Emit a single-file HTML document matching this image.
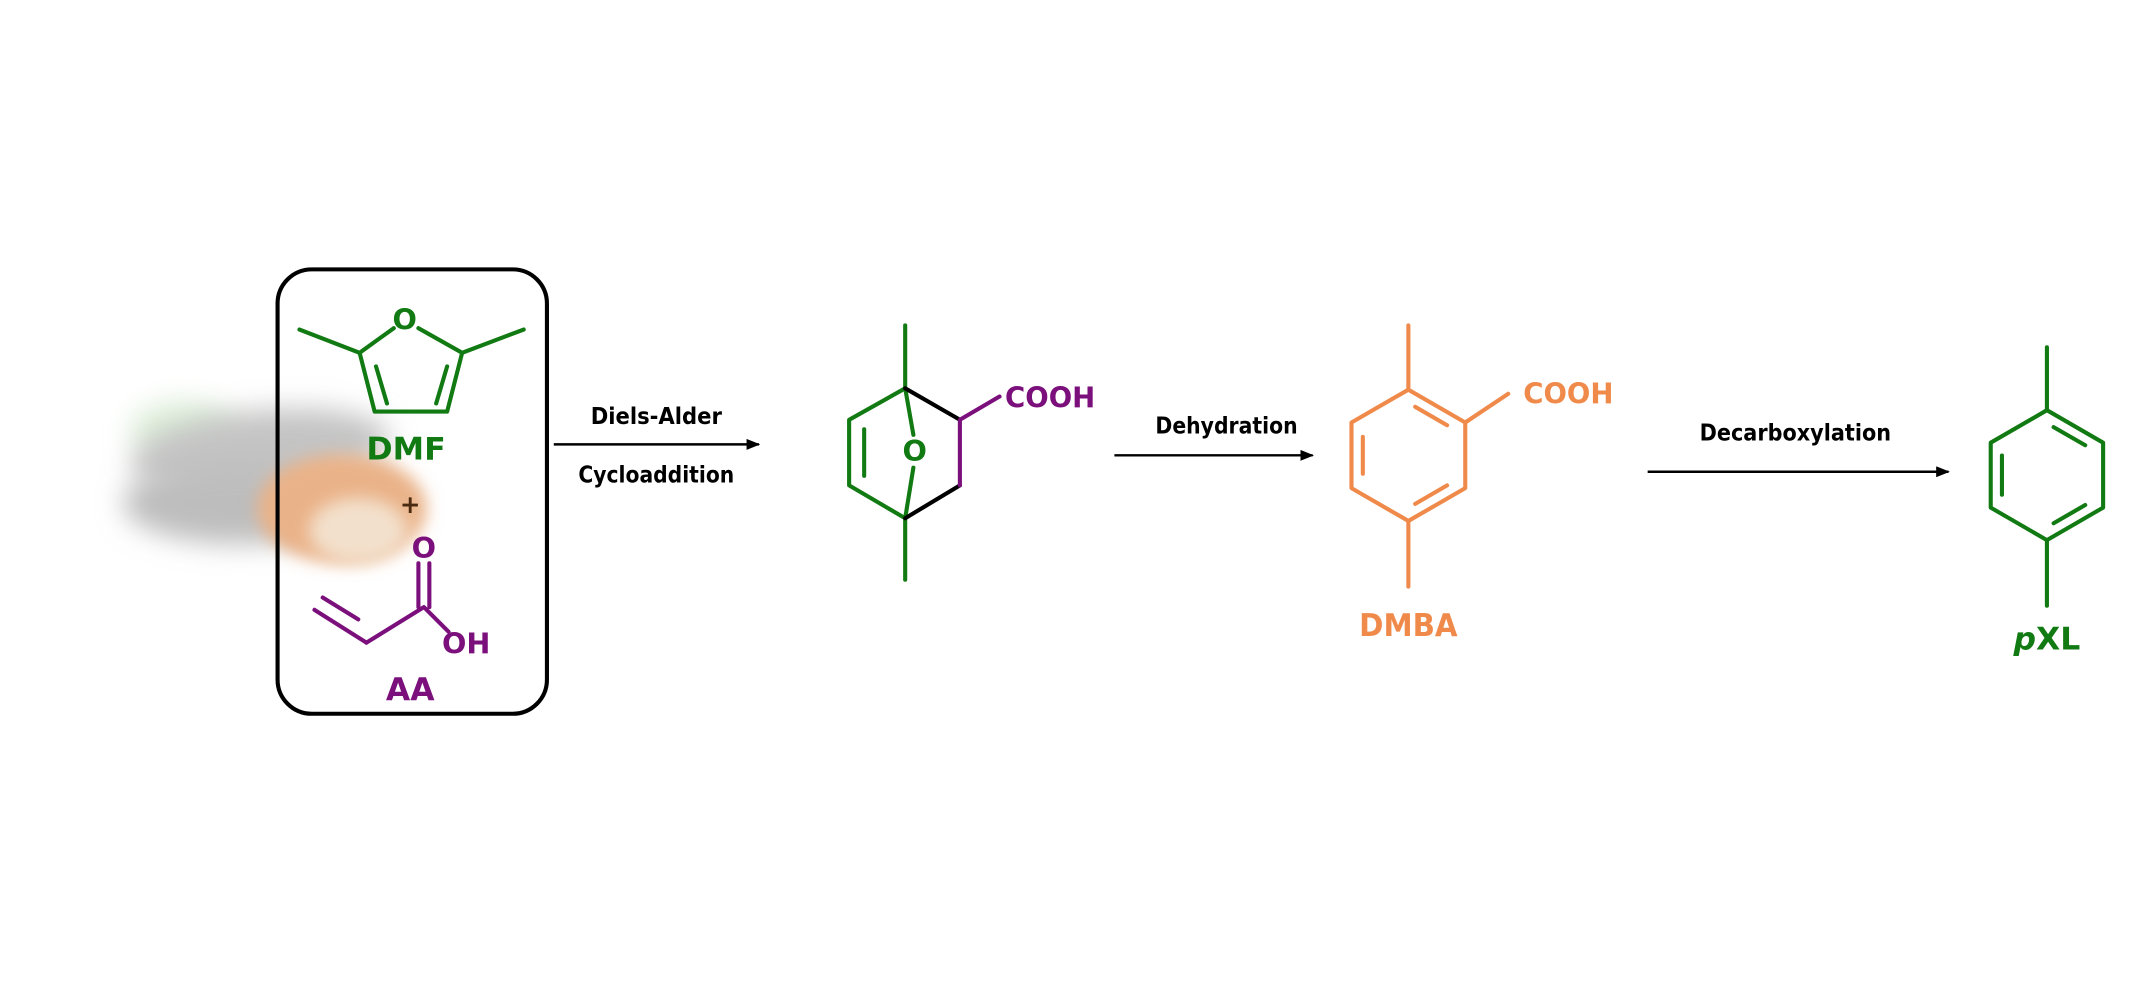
<!DOCTYPE html>
<html><head><meta charset="utf-8"><style>
html,body{margin:0;padding:0;background:#fff;}
svg{display:block;}
text{font-family:"DejaVu Sans","Liberation Sans",sans-serif;font-weight:bold;}
</style></head><body>
<svg width="2144" height="1000" viewBox="0 0 1568 731.34" xmlns="http://www.w3.org/2000/svg">
<defs>
<filter id="b1" x="-50%" y="-50%" width="200%" height="200%"><feGaussianBlur stdDeviation="10"/></filter>
<filter id="b2" x="-50%" y="-50%" width="200%" height="200%"><feGaussianBlur stdDeviation="6"/></filter>
<marker id="ah" markerWidth="10" markerHeight="8" refX="9" refY="4" orient="auto" markerUnits="userSpaceOnUse"><path d="M0,0 L10,4 L0,8 z" fill="#000"/></marker>
</defs>
<!-- log background -->
<ellipse cx="135" cy="315" rx="40" ry="22" fill="#d6ead0" filter="url(#b1)" opacity="0.8"/>
<ellipse cx="190" cy="330" rx="95" ry="30" fill="#c4c4c4" filter="url(#b1)" transform="rotate(-6 190 330)"/>
<ellipse cx="175" cy="368" rx="85" ry="30" fill="#bdbdbd" filter="url(#b1)"/>
<ellipse cx="250" cy="372" rx="62" ry="40" fill="#eab288" filter="url(#b2)"/>
<ellipse cx="262" cy="388" rx="36" ry="24" fill="#f3e0cc" filter="url(#b2)"/>
<!-- box -->
<rect x="203" y="197" width="197" height="325" rx="25" ry="25" fill="none" stroke="#000" stroke-width="3"/>
<g stroke-width="3" fill="none" stroke-linecap="round" stroke-linejoin="round">
<g stroke="#127a12">
<path d="M288,240 L263,258 L274,301 L327,301 L338,258 L306,240"/>
<line x1="263" y1="258" x2="219" y2="241"/>
<line x1="338" y1="258" x2="383" y2="241"/>
<line x1="275" y1="268" x2="283" y2="295"/>
<line x1="327" y1="268" x2="319" y2="295"/>
</g>
<g stroke="#7b0f7b">
<line x1="230" y1="446" x2="268" y2="470"/>
<line x1="236" y1="437" x2="262" y2="453"/>
<path d="M268,470 L310,444 L328,462"/>
<line x1="306" y1="412" x2="306" y2="444"/>
<line x1="314" y1="412" x2="314" y2="444"/>
</g>
<line x1="662" y1="238" x2="662" y2="284" stroke="#127a12"/>
<line x1="662" y1="379" x2="662" y2="424" stroke="#127a12"/>
<path d="M662,284 L621,307 L621,355 L662,379" stroke="#127a12"/>
<line x1="632" y1="314" x2="632" y2="348" stroke="#127a12"/>
<line x1="662" y1="284" x2="668" y2="318" stroke="#127a12"/>
<line x1="668" y1="342" x2="662" y2="379" stroke="#127a12"/>
<line x1="662" y1="284" x2="702" y2="307" stroke="#000"/>
<line x1="702" y1="355" x2="662" y2="379" stroke="#000"/>
<path d="M731,290 L702,307 L702,355" stroke="#7b0f7b"/>
<g stroke="#f08a4b">
<path d="M1030,285 L1071.6,309 L1071.6,357 L1030,381 L988.4,357 L988.4,309 Z"/>
<line x1="1030" y1="285" x2="1030" y2="238"/>
<line x1="1030" y1="381" x2="1030" y2="429"/>
<line x1="1071.6" y1="309" x2="1103" y2="288"/>
<line x1="1035" y1="297.5" x2="1058.3" y2="311"/>
<line x1="996.7" y1="319.5" x2="996.7" y2="346.5"/>
<line x1="1058.3" y1="355" x2="1035" y2="368.5"/>
</g>
<g stroke="#127a12">
<path d="M1497,300 L1538.1,323.75 L1538.1,371.25 L1497,395 L1455.9,371.25 L1455.9,323.75 Z"/>
<line x1="1497" y1="300" x2="1497" y2="254"/>
<line x1="1497" y1="395" x2="1497" y2="443"/>
<line x1="1501.9" y1="312.35" x2="1525" y2="325.65"/>
<line x1="1464.1" y1="333.2" x2="1464.1" y2="361.8"/>
<line x1="1525" y1="369.35" x2="1501.9" y2="382.65"/>
</g>
</g>
<g stroke="#000" stroke-width="1.8">
<line x1="405" y1="325" x2="555" y2="325" marker-end="url(#ah)"/>
<line x1="815" y1="333" x2="960" y2="333" marker-end="url(#ah)"/>
<line x1="1205" y1="345" x2="1425" y2="345" marker-end="url(#ah)"/>
</g>
<g font-size="23" text-anchor="middle">
<text x="296" y="241" fill="#127a12" font-weight="normal" font-size="21">O</text>
<text x="297" y="336" fill="#127a12" textLength="58" lengthAdjust="spacingAndGlyphs">DMF</text>
<text x="300" y="375" fill="#4a2a10" font-size="18">+</text>
<text x="310" y="408" fill="#7b0f7b" font-size="21">O</text>
<text x="341" y="478" fill="#7b0f7b" font-size="21">OH</text>
<text x="300" y="512" fill="#7b0f7b">AA</text>
<text x="669" y="337" fill="#127a12" font-size="21">O</text>
<text x="768" y="298" fill="#7b0f7b" font-size="21" textLength="66" lengthAdjust="spacingAndGlyphs">COOH</text>
<text x="1147" y="295" fill="#f08a4b" font-size="21" textLength="66" lengthAdjust="spacingAndGlyphs">COOH</text>
<text x="1030" y="465" fill="#f08a4b" textLength="72" lengthAdjust="spacingAndGlyphs">DMBA</text>
<text x="1497" y="475" fill="#127a12"><tspan font-style="italic">p</tspan>XL</text>
</g>
<g font-size="17" text-anchor="middle" fill="#000">
<text x="480" y="310" textLength="96" lengthAdjust="spacingAndGlyphs">Diels-Alder</text>
<text x="480" y="353" textLength="114" lengthAdjust="spacingAndGlyphs">Cycloaddition</text>
<text x="897" y="317" textLength="104" lengthAdjust="spacingAndGlyphs">Dehydration</text>
<text x="1313" y="322" textLength="140" lengthAdjust="spacingAndGlyphs">Decarboxylation</text>
</g>
</svg>
</body></html>
